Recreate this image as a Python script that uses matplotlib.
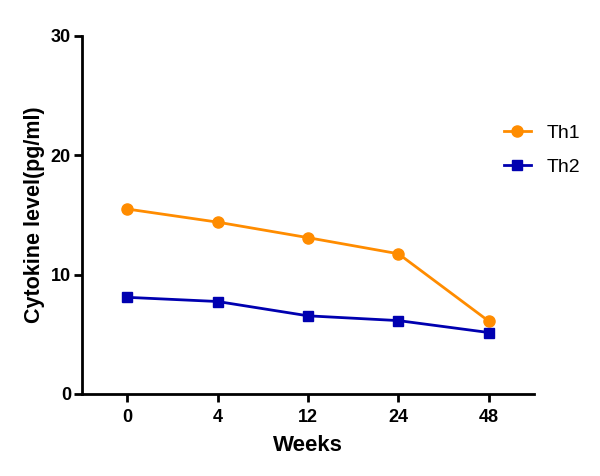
import matplotlib
matplotlib.use("Agg")
import matplotlib.pyplot as plt

weeks = ["0", "4", "12", "24", "48"]
th1 = [15.5, 14.4, 13.1, 11.75, 6.1]
th2 = [8.1, 7.75, 6.55, 6.15, 5.15]
yticks = [0, 10, 20, 30]

plt.rcParams['font.family'] = ['Liberation Sans', 'DejaVu Sans']

fig = plt.figure(figsize=(6, 4.76), dpi=100)
ax = fig.add_axes([0.1367, 0.1723, 0.7533, 0.7521])

x = list(range(len(weeks)))
ax.plot(x, th1, color='#FF8C00', marker='o', markersize=8, linewidth=2,
        label='Th1', clip_on=False)
ax.plot(x, th2, color='#0000B0', marker='s', markersize=7.5, linewidth=2,
        label='Th2', clip_on=False)

ax.set_xlim(-0.5, 4.5)
ax.set_ylim(0, 30)
ax.set_xticks(x)
ax.set_xticklabels(weeks)
ax.set_yticks(yticks)

for s in ['top', 'right']:
    ax.spines[s].set_visible(False)
for s in ['left', 'bottom']:
    ax.spines[s].set_linewidth(2)

ax.tick_params(width=2, length=6, labelsize=13, pad=2)
ax.tick_params(axis='x', pad=5)
for lab in ax.get_xticklabels() + ax.get_yticklabels():
    lab.set_fontweight('bold')

ax.set_xlabel('Weeks', fontsize=16, fontweight='bold', labelpad=6)
ax.set_ylabel('Cytokine level(pg/ml)', fontsize=15.5, fontweight='bold', labelpad=4)

fig.legend(loc='upper left', bbox_to_anchor=(0.81, 0.776), frameon=False,
           fontsize=14, handlelength=1.4, handletextpad=0.8, labelspacing=0.85)

fig.savefig('out.png', dpi=100)
